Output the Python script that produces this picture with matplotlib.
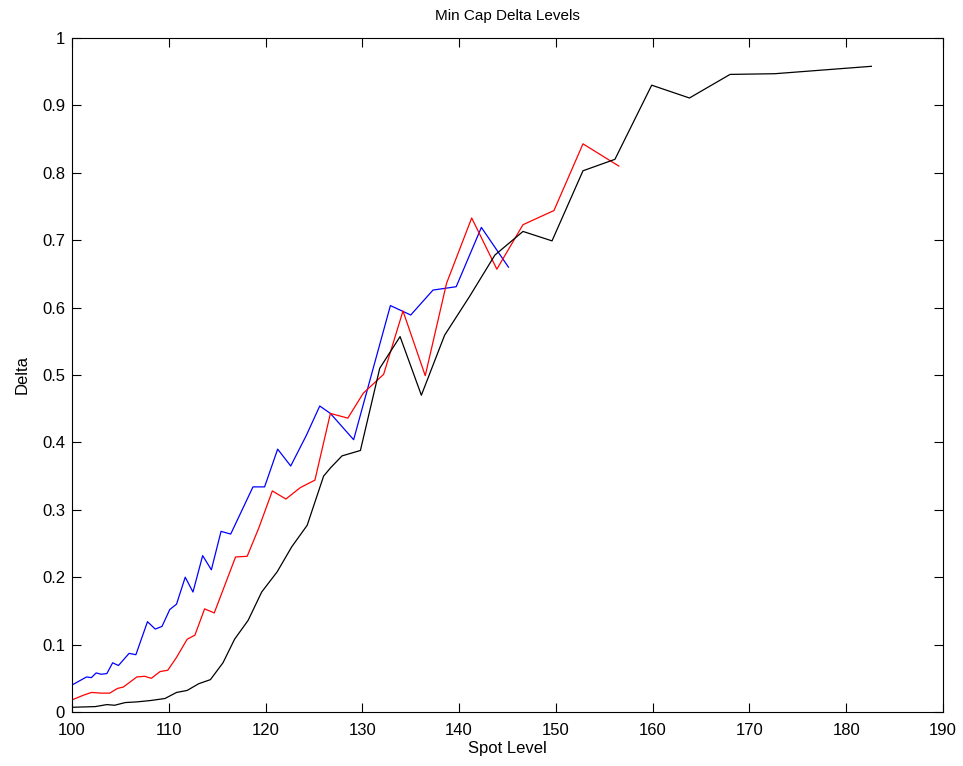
import matplotlib
matplotlib.use("Agg")
import matplotlib.pyplot as plt

blue_x = [100.0, 101.5, 102.0, 102.5, 103.0, 103.6, 104.2, 104.8, 105.9, 106.6, 107.8, 108.6, 109.3,
          110.1, 110.8, 111.7, 112.5, 113.5, 114.4, 115.4, 116.4, 118.7, 119.9, 121.25, 122.6, 124.2,
          125.6, 126.7, 129.1, 132.9, 135.0, 137.3, 139.7, 142.3, 145.1]
blue_y = [0.040, 0.052, 0.051, 0.058, 0.056, 0.057, 0.073, 0.069, 0.087, 0.085, 0.134, 0.123, 0.127,
          0.152, 0.160, 0.200, 0.178, 0.232, 0.211, 0.268, 0.264, 0.334, 0.334, 0.390, 0.365, 0.410,
          0.454, 0.443, 0.404, 0.603, 0.589, 0.626, 0.631, 0.719, 0.660]

red_x = [100.0, 101.2, 102.0, 103.0, 103.9, 104.7, 105.3, 106.7, 107.5, 108.2, 109.1, 109.9, 110.8,
         111.9, 112.7, 113.7, 114.7, 116.9, 118.1, 119.3, 120.7, 122.1, 123.6, 125.1, 126.7, 128.5,
         130.1, 132.2, 134.2, 136.5, 138.7, 141.3, 143.9, 146.6, 149.8, 152.8, 156.5]
red_y = [0.018, 0.025, 0.029, 0.028, 0.028, 0.035, 0.037, 0.052, 0.053, 0.050, 0.060, 0.062, 0.081,
         0.108, 0.114, 0.153, 0.147, 0.230, 0.231, 0.273, 0.328, 0.316, 0.333, 0.344, 0.443, 0.436,
         0.473, 0.501, 0.595, 0.499, 0.636, 0.733, 0.657, 0.723, 0.744, 0.843, 0.810]

black_x = [100.0, 102.4, 103.6, 104.4, 105.5, 106.7, 108.1, 109.6, 110.8, 111.9, 113.1, 114.3, 115.6,
           116.8, 118.2, 119.6, 121.2, 122.7, 124.3, 126.0, 126.7, 127.9, 129.8, 131.8, 133.9, 136.1,
           138.5, 141.1, 143.7, 146.6, 149.6, 152.8, 156.1, 159.9, 163.8, 168.0, 172.6, 182.6]
black_y = [0.007, 0.008, 0.011, 0.010, 0.014, 0.015, 0.017, 0.020, 0.029, 0.032, 0.042, 0.048, 0.073,
           0.108, 0.136, 0.178, 0.208, 0.245, 0.277, 0.350, 0.362, 0.380, 0.388, 0.510, 0.557, 0.470,
           0.559, 0.617, 0.678, 0.713, 0.699, 0.803, 0.820, 0.930, 0.911, 0.946, 0.947, 0.958]

x_ticks = [100, 110, 120, 130, 140, 150, 160, 170, 180, 190]
y_ticks = [0, 0.1, 0.2, 0.3, 0.4, 0.5, 0.6, 0.7, 0.8, 0.9, 1]
y_tick_labels = ["0", "0.1", "0.2", "0.3", "0.4", "0.5", "0.6", "0.7", "0.8", "0.9", "1"]

plt.rcParams['font.family'] = ['Liberation Sans', 'DejaVu Sans']

fig = plt.figure(figsize=(9.63, 7.66), dpi=100)
ax = fig.add_axes([72/963, 54/766, 871/963, 674/766])

ax.plot(blue_x, blue_y, color='#0000ff', lw=0.9)
ax.plot(red_x, red_y, color='#ff0000', lw=0.9)
ax.plot(black_x, black_y, color='#000000', lw=0.9)

ax.set_xlim(100, 190)
ax.set_ylim(0, 1)
ax.set_xticks(x_ticks)
ax.set_yticks(y_ticks)
ax.set_yticklabels(y_tick_labels)
ax.tick_params(direction='in', top=True, right=True, length=6.5, width=0.8, labelsize=12)
ax.tick_params(axis='x', pad=8)
ax.tick_params(axis='y', pad=5)
for s in ax.spines.values():
    s.set_linewidth(0.8)

ax.set_title("Min Cap Delta Levels", fontsize=11, pad=13)
ax.set_xlabel("Spot Level", fontsize=12, labelpad=2)
ax.set_ylabel("Delta", fontsize=12, labelpad=9)

fig.savefig("out.png", dpi=100)
